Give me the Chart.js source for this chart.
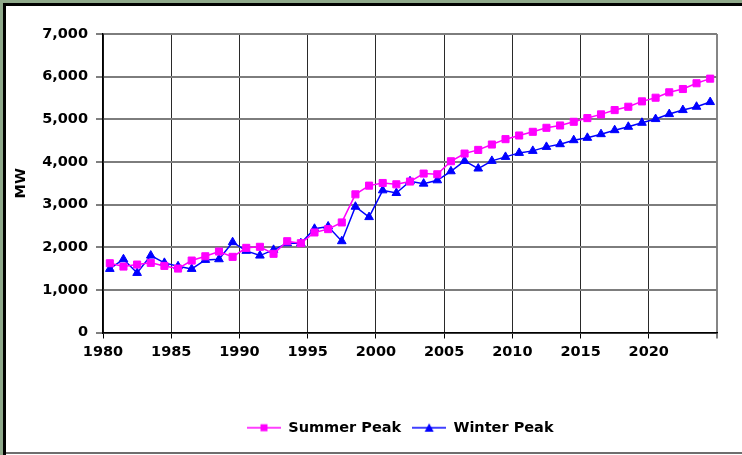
<!DOCTYPE html>
<html>
<head>
<meta charset="utf-8">
<script src="https://cdn.jsdelivr.net/npm/chart.js@4.4.0/dist/chart.umd.min.js"></script>
<style>
  html, body { margin: 0; padding: 0; background: #ffffff; }
  #wrap { position: relative; width: 742px; height: 455px; overflow: hidden; background: #ffffff; }
  #c { position: absolute; left: 0; top: 0; }
  .f { position: absolute; }
</style>
</head>
<body>
<div id="wrap">
  <canvas id="c" width="742" height="455"></canvas>
  <div class="f" style="left:0;top:0;width:742px;height:3px;background:#8fa98a;"></div>
  <div class="f" style="left:0;top:0;width:3px;height:455px;background:#8fa98a;"></div>
  <div class="f" style="left:3px;top:3px;width:739px;height:3px;background:#000;"></div>
  <div class="f" style="left:3px;top:3px;width:3px;height:452px;background:#000;"></div>
  <div class="f" style="left:6px;top:452px;width:736px;height:2px;background:#6e6e6e;"></div>
</div>
<script>
// ---- data ----
const years = [1980,1981,1982,1983,1984,1985,1986,1987,1988,1989,
               1990,1991,1992,1993,1994,1995,1996,1997,1998,1999,
               2000,2001,2002,2003,2004,2005,2006,2007,2008,2009,
               2010,2011,2012,2013,2014,2015,2016,2017,2018,2019,
               2020,2021,2022,2023,2024];
const summerPeak = [1624,1546,1593,1633,1562,1499,1687,1788,1899,1774,
                    1985,2009,1845,2141,2094,2346,2424,2581,3240,3444,
                    3506,3475,3540,3727,3710,4016,4196,4282,4408,4534,
                    4620,4706,4800,4855,4941,5028,5115,5216,5294,5420,
                    5506,5633,5710,5845,5953];
const winterPeak = [1491,1718,1397,1804,1633,1553,1491,1703,1718,2118,
                    1915,1804,1938,2094,2094,2432,2487,2141,2950,2706,
                    3334,3271,3546,3491,3569,3781,4024,3845,4024,4118,
                    4212,4259,4353,4416,4510,4565,4651,4745,4824,4918,
                    5005,5122,5216,5294,5404];
const xTickValues = [1980,1985,1990,1995,2000,2005,2010,2015,2020,2025];
const xTickLabels = ['1980','1985','1990','1995','2000','2005','2010','2015','2020',''];
const yTickValues = [0,1000,2000,3000,4000,5000,6000,7000];
const yTickLabels = ['0','1,000','2,000','3,000','4,000','5,000','6,000','7,000'];
const seriesNames = ['Summer Peak','Winter Peak'];
const seriesColors = ['#ff00ff','#0000ff'];
const seriesMarkers = ['rect','triangle'];

// ---- legend icons (line + marker) ----
function legendIcon(color, marker) {
  const cv = document.createElement('canvas');
  cv.width = 34; cv.height = 12;
  const g = cv.getContext('2d');
  g.strokeStyle = color; g.lineWidth = 1.3;
  g.beginPath(); g.moveTo(0, 6); g.lineTo(34, 6); g.stroke();
  g.fillStyle = color;
  if (marker === 'rect') {
    g.fillRect(13.5, 2.5, 7, 7);
  } else {
    g.beginPath(); g.moveTo(17, 1.5); g.lineTo(12.5, 10); g.lineTo(21.5, 10); g.closePath(); g.fill();
  }
  return cv;
}

const FONT = "'DejaVu Sans', 'Liberation Sans', Arial, sans-serif";
const FS = 14.5;
Chart.defaults.font.family = FONT;
Chart.defaults.font.size = FS;
Chart.defaults.font.weight = 'bold';
Chart.defaults.color = '#000';

const legendShift = {
  id: 'legendShift',
  afterLayout(chart) {
    const lg = chart.legend;
    if (lg) { lg.left += 236; lg.right += 236; }
  }
};

const datasets = seriesNames.map((name, s) => {
  const vals = s === 0 ? summerPeak : winterPeak;
  return {
    label: name,
    data: years.map((yr, i) => ({ x: yr + 0.5, y: vals[i] })),
    borderColor: seriesColors[s],
    backgroundColor: seriesColors[s],
    borderWidth: 1.5,
    pointStyle: seriesMarkers[s],
    pointRadius: 5,
    pointBorderWidth: 1,
    pointBackgroundColor: seriesColors[s],
    pointBorderColor: seriesColors[s],
    tension: 0
  };
});

new Chart(document.getElementById('c'), {
  type: 'line',
  data: { datasets },
  plugins: [legendShift],
  options: {
    responsive: false,
    animation: false,
    devicePixelRatio: 1,
    layout: { padding: { left: 0, right: 25, top: 34, bottom: 10 } },
    plugins: {
      tooltip: { enabled: false },
      legend: {
        display: true,
        position: 'bottom',
        align: 'start',
        labels: {
          usePointStyle: true,
          pointStyleWidth: 34,
          padding: 11,
          font: { family: FONT, size: FS, weight: 'bold' },
          color: '#000',
          generateLabels(chart) {
            return chart.data.datasets.map((ds, i) => ({
              text: ds.label,
              pointStyle: legendIcon(seriesColors[i], seriesMarkers[i]),
              fillStyle: seriesColors[i],
              strokeStyle: seriesColors[i],
              lineWidth: 0,
              hidden: false,
              datasetIndex: i,
              fontColor: '#000'
            }));
          }
        }
      }
    },
    scales: {
      x: {
        type: 'linear',
        min: 1980,
        max: 2025,
        afterBuildTicks(scale) { scale.ticks = xTickValues.map(v => ({ value: v })); },
        afterFit(scale) { scale.height = 77; },
        ticks: {
          autoSkip: false,
          maxRotation: 0,
          padding: 5,
          color: '#000',
          font: { family: FONT, size: FS, weight: 'bold' },
          callback(v) { const k = xTickValues.indexOf(v); return k >= 0 ? xTickLabels[k] : ''; }
        },
        grid: {
          color(c) { return c.tick && c.tick.value === 2025 ? '#858585' : '#2a2a2a'; },
          lineWidth(c) { return c.tick && c.tick.value === 2025 ? 2 : 1; },
          tickColor: '#000',
          tickLength: 6,
          tickWidth: 1
        },
        border: { color: '#000', width: 1.5 }
      },
      y: {
        type: 'linear',
        min: 0,
        max: 7000,
        afterBuildTicks(scale) { scale.ticks = yTickValues.map(v => ({ value: v })); },
        afterFit(scale) { scale.width = 103; },
        ticks: {
          padding: 8,
          color: '#000',
          font: { family: FONT, size: FS, weight: 'bold' },
          callback(v) { const k = yTickValues.indexOf(v); return k >= 0 ? yTickLabels[k] : ''; }
        },
        title: {
          display: true,
          text: 'MW',
          color: '#000',
          font: { family: FONT, size: FS, weight: 'bold' },
          padding: { top: 13, bottom: 0 }
        },
        grid: {
          color: '#7d7d7d',
          lineWidth: 2,
          tickColor: '#000',
          tickLength: 7,
          tickWidth: 1
        },
        border: { color: '#000', width: 1.5 }
      }
    }
  }
});
</script>
</body>
</html>
